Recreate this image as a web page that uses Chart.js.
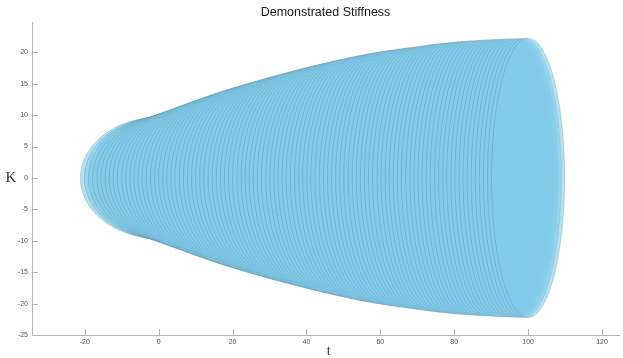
<!DOCTYPE html>
<html>
<head>
<meta charset="utf-8">
<script src="https://cdn.jsdelivr.net/npm/chart.js@4"></script>
<style>
  body { margin: 0; background: #fff; }
  #wrap { width: 623px; height: 358px; position: relative; }
</style>
</head>
<body>
<div id="wrap"><canvas id="stiffChart"></canvas></div>
<script>
// ellipse centres along t
const centreT = [
  0, 1, 2, 3, 4, 5, 6, 7, 8, 9,
  10, 11, 12, 13, 14, 15, 16, 17, 18, 19,
  20, 21, 22, 23, 24, 25, 26, 27, 28, 29,
  30, 31, 32, 33, 34, 35, 36, 37, 38, 39,
  40, 41, 42, 43, 44, 45, 46, 47, 48, 49,
  50, 51, 52, 53, 54, 55, 56, 57, 58, 59,
  60, 61, 62, 63, 64, 65, 66, 67, 68, 69,
  70, 71, 72, 73, 74, 75, 76, 77, 78, 79,
  80, 81, 82, 83, 84, 85, 86, 87, 88, 89,
  90, 91, 92, 93, 94, 95, 96, 97, 98, 99,
  100
];
const centreK = centreT.map(() => 0);

// half-height of each ellipse (stiffness K)
const stiffness = [
  9.65, 9.75, 9.88, 10.03, 10.20, 10.40, 10.62, 10.85, 11.08, 11.32,
  11.56, 11.80, 12.04, 12.28, 12.51, 12.74, 12.97, 13.20, 13.42, 13.64,
  13.86, 14.08, 14.28, 14.47, 14.66, 14.85, 15.03, 15.21, 15.39, 15.57,
  15.75, 15.92, 16.09, 16.26, 16.43, 16.60, 16.76, 16.92, 17.08, 17.24,
  17.40, 17.55, 17.70, 17.85, 18.00, 18.15, 18.29, 18.43, 18.57, 18.71,
  18.85, 18.98, 19.11, 19.24, 19.37, 19.50, 19.61, 19.72, 19.83, 19.94,
  20.05, 20.14, 20.23, 20.32, 20.41, 20.50, 20.58, 20.66, 20.74, 20.82,
  20.90, 20.98, 21.06, 21.14, 21.22, 21.30, 21.37, 21.44, 21.50, 21.56,
  21.62, 21.67, 21.72, 21.76, 21.80, 21.85, 21.89, 21.92, 21.95, 21.98,
  22.02, 22.05, 22.08, 22.10, 22.13, 22.15, 22.17, 22.19, 22.21, 22.23,
  22.25
];

// half-width of each ellipse along t
const spreadT = [
  21.2, 21.1, 21.0, 20.9, 20.7, 20.6, 20.5, 20.4, 20.3, 20.2,
  20.0, 19.9, 19.8, 19.7, 19.6, 19.5, 19.4, 19.2, 19.1, 19.0,
  18.9, 18.8, 18.7, 18.6, 18.4, 18.3, 18.2, 18.1, 18.0, 17.9,
  17.8, 17.6, 17.5, 17.4, 17.3, 17.2, 17.1, 17.0, 16.8, 16.7,
  16.6, 16.5, 16.4, 16.3, 16.2, 16.0, 15.9, 15.8, 15.7, 15.6,
  15.5, 15.4, 15.2, 15.1, 15.0, 14.9, 14.8, 14.7, 14.5, 14.4,
  14.3, 14.2, 14.1, 14.0, 13.9, 13.7, 13.6, 13.5, 13.4, 13.3,
  13.2, 13.1, 12.9, 12.8, 12.7, 12.6, 12.5, 12.4, 12.3, 12.1,
  12.0, 11.9, 11.8, 11.7, 11.6, 11.5, 11.3, 11.2, 11.1, 11.0,
  10.9, 10.8, 10.7, 10.6, 10.5, 10.4, 10.3, 10.2, 10.1, 10.0,
  9.9
];

const xTicks = [-20, 0, 20, 40, 60, 80, 100, 120];
const yTicks = [-25, -20, -15, -10, -5, 0, 5, 10, 15, 20];

const AXIS_GREY = "#b3b3b3";

// draws one ellipse per centre, on top of the centre dots
const ellipsePlugin = {
  id: "ellipses",
  afterDatasetsDraw(chart) {
    const { ctx, chartArea, scales: { x, y } } = chart;
    ctx.save();
    ctx.beginPath();
    ctx.rect(chartArea.left, chartArea.top, chartArea.right - chartArea.left, chartArea.bottom - chartArea.top);
    ctx.clip();
    for (let i = 0; i < centreT.length; i++) {
      const cx = x.getPixelForValue(centreT[i]);
      const cy = y.getPixelForValue(centreK[i]);
      const rx = Math.abs(x.getPixelForValue(centreT[i] + spreadT[i]) - cx);
      const ry = Math.abs(y.getPixelForValue(centreK[i] + stiffness[i]) - cy);
      ctx.beginPath();
      ctx.ellipse(cx, cy, rx, ry, 0, 0, Math.PI * 2);
      ctx.fillStyle = "rgba(128,204,234,0.6)";
      ctx.fill();
      ctx.lineWidth = 0.7;
      ctx.strokeStyle = "rgba(50,70,90,0.24)";
      ctx.stroke();
    }
    ctx.restore();
  }
};

// inward tick marks, title and axis letters
const decorPlugin = {
  id: "decor",
  afterDraw(chart) {
    const { ctx, chartArea, scales: { x, y } } = chart;
    ctx.save();
    ctx.strokeStyle = AXIS_GREY;
    ctx.lineWidth = 1;
    ctx.beginPath();
    xTicks.forEach(v => {
      const px = Math.round(x.getPixelForValue(v)) + 0.5;
      ctx.moveTo(px, chartArea.bottom);
      ctx.lineTo(px, chartArea.bottom - 6);
    });
    yTicks.forEach(v => {
      const py = Math.round(y.getPixelForValue(v)) + 0.5;
      ctx.moveTo(chartArea.left, py);
      ctx.lineTo(chartArea.left + 6, py);
    });
    ctx.stroke();

    ctx.fillStyle = "#1a1a1a";
    ctx.textAlign = "center";
    ctx.textBaseline = "middle";
    ctx.font = "12.5px 'Liberation Sans', Arial, sans-serif";
    ctx.fillText("Demonstrated Stiffness", (chartArea.left + chartArea.right) / 2, 13);

    ctx.fillStyle = "#333";
    ctx.font = "15px 'Liberation Serif', 'Times New Roman', serif";
    ctx.fillText("K", 11, (chartArea.top + chartArea.bottom) / 2);
    ctx.font = "14px 'Liberation Serif', 'Times New Roman', serif";
    ctx.fillText("t", x.getPixelForValue(46), 351);
    ctx.restore();
  }
};

const tickFont = { family: "'Liberation Sans', Arial, sans-serif", size: 7 };

new Chart(document.getElementById("stiffChart"), {
  type: "scatter",
  data: {
    datasets: [
      {
        label: "centres",
        data: centreT.map((t, i) => ({ x: t, y: centreK[i] })),
        pointRadius: 0.8,
        pointBackgroundColor: "#2a3a4a",
        pointBorderWidth: 0,
      },
    ],
  },
  options: {
    responsive: true,
    maintainAspectRatio: false,
    animation: false,
    layout: { padding: { top: 22, right: 1, left: 0, bottom: 0 } },
    plugins: {
      legend: { display: false },
      tooltip: { enabled: false },
    },
    scales: {
      x: {
        type: "linear",
        min: -34.27,
        max: 124.6,
        grid: { display: false, drawTicks: false },
        border: { display: true, color: AXIS_GREY, width: 1 },
        afterBuildTicks: (s) => { s.ticks = xTicks.map(v => ({ value: v })); },
        afterFit: (s) => { s.height = 23; },
        ticks: { color: "#555", font: tickFont, padding: 3, maxRotation: 0 },
      },
      y: {
        type: "linear",
        min: -25,
        max: 24.82,
        grid: { display: false, drawTicks: false },
        border: { display: true, color: AXIS_GREY, width: 1 },
        afterBuildTicks: (s) => { s.ticks = yTicks.map(v => ({ value: v })); },
        afterFit: (s) => { s.width = 32; },
        ticks: { color: "#555", font: tickFont, padding: 4 },
      },
    },
  },
  plugins: [ellipsePlugin, decorPlugin],
});
</script>
</body>
</html>
